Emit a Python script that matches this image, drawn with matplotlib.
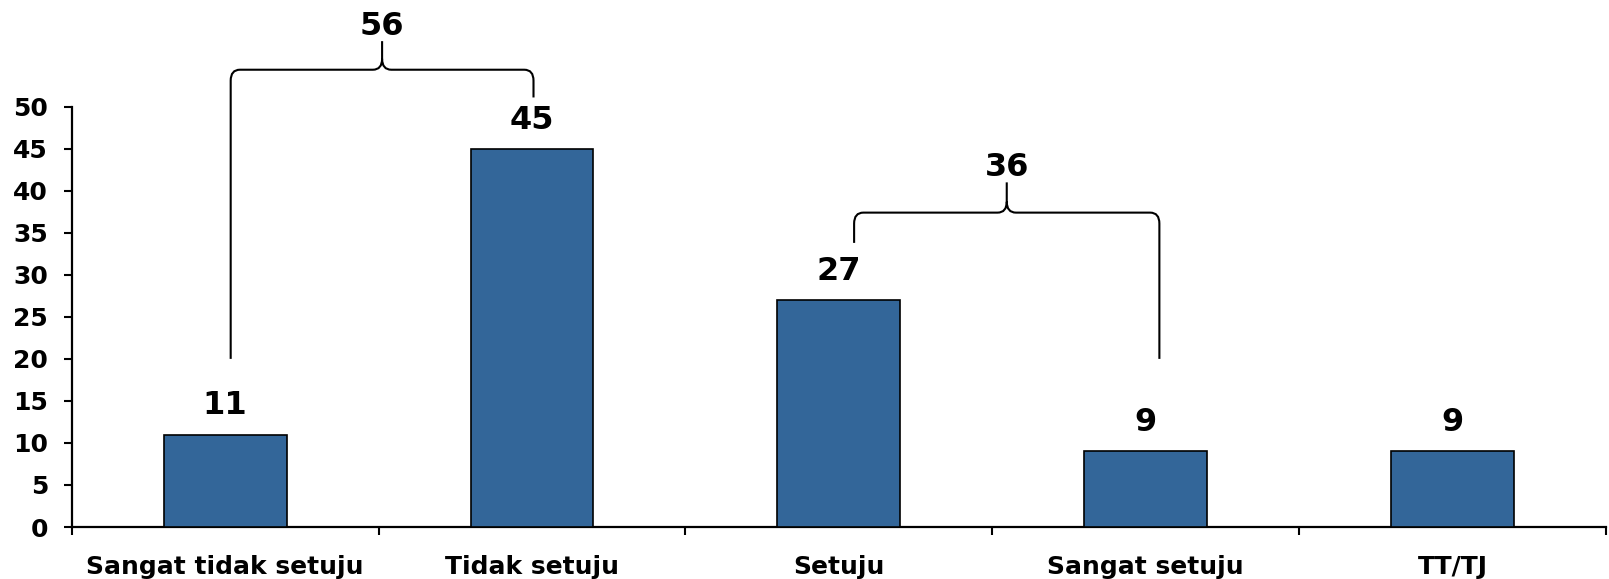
import matplotlib
matplotlib.use('Agg')
import matplotlib.pyplot as plt
from matplotlib.path import Path
from matplotlib.patches import PathPatch

kategori = ['Sangat tidak setuju', 'Tidak setuju', 'Setuju', 'Sangat setuju', 'TT/TJ']
nilai = [11, 45, 27, 9, 9]
yticks = [0, 5, 10, 15, 20, 25, 30, 35, 40, 45, 50]
warna = '#336699'

plt.rcParams['font.family'] = 'DejaVu Sans'
plt.rcParams['font.weight'] = 'bold'

fig = plt.figure(figsize=(16.09, 5.79), dpi=100)
ax = fig.add_axes([0.0446, 0.0898, 0.9534, 0.7259])

x = range(len(kategori))
ax.bar(x, nilai, width=0.4, color=warna, edgecolor='black', linewidth=1.2, zorder=3)

for i, v in enumerate(nilai):
    ax.text(i, v + 3.4, str(v), ha='center', va='center', fontsize=23, fontweight='bold')

ax.set_xlim(-0.5, len(kategori) - 0.5)
ax.set_ylim(0, 50)
ax.set_yticks(yticks)
ax.set_yticklabels([str(t) for t in yticks], fontsize=18, fontweight='bold')
ax.set_xticks(list(x))
ax.set_xticklabels(kategori, fontsize=18, fontweight='bold')
ax.set_xticks([i - 0.5 for i in range(len(kategori) + 1)], minor=True)
ax.tick_params(axis='x', which='major', length=0, pad=20)
ax.tick_params(axis='x', which='minor', length=6, width=1.5, direction='out')
ax.tick_params(axis='y', length=6, width=1.5, direction='out', pad=11)
for s in ['top', 'right']:
    ax.spines[s].set_visible(False)
for s in ['left', 'bottom']:
    ax.spines[s].set_linewidth(1.6)


def kurung(xa, ya, xb, yb, yh, ytop, label):
    # kurung kurawal di atas dua batang
    xm = (xa + xb) / 2
    dx, dy = 0.03, 1.3
    verts = [
        (xa, ya), (xa, yh - dy),
        (xa, yh), (xa + dx, yh),
        (xm - dx, yh),
        (xm, yh), (xm, yh + dy),
        (xm, ytop),
        (xm, yh + dy), (xm, yh), (xm + dx, yh),
        (xb - dx, yh),
        (xb, yh), (xb, yh - dy),
        (xb, yb),
    ]
    codes = [Path.MOVETO, Path.LINETO,
             Path.CURVE3, Path.CURVE3,
             Path.LINETO,
             Path.CURVE3, Path.CURVE3,
             Path.LINETO,
             Path.MOVETO, Path.CURVE3, Path.CURVE3,
             Path.LINETO,
             Path.CURVE3, Path.CURVE3,
             Path.LINETO]
    p = PathPatch(Path(verts, codes), fill=False, edgecolor='black', linewidth=1.5, clip_on=False)
    ax.add_patch(p)
    ax.text(xm, ytop + 1.8, label, ha='center', va='center', fontsize=23, fontweight='bold', clip_on=False)


kurung(0.018, 20, 1.005, 51.1, 54.4, 57.8, str(nilai[0] + nilai[1]))
kurung(2.05, 33.8, 3.045, 20, 37.4, 41.0, str(nilai[2] + nilai[3]))

fig.savefig('out.png', dpi=100)
